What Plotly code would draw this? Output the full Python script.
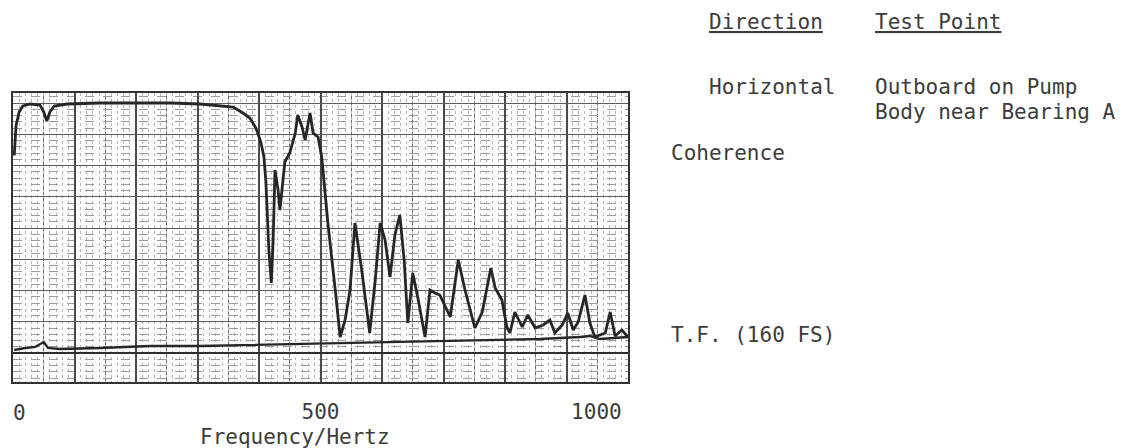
import plotly.graph_objects as go

# ---- data ----
coh_freq = [2, 5, 10, 16, 28, 44, 50, 55, 60, 67, 88, 141, 195, 255, 304, 337, 358, 374,
            385, 395, 403, 408, 411, 413, 416, 420, 423, 426, 431, 434, 439, 442, 450, 459,
            463, 470, 475, 480, 483, 488, 496, 502, 512, 524, 532, 540, 548, 556, 567, 580,
            589, 597, 605, 613, 621, 629, 636, 642, 650, 659, 670, 678, 686, 694, 702, 711,
            724, 735, 751, 763, 777, 784, 795, 803, 808, 816, 828, 837, 849, 862, 873, 881,
            893, 902, 911, 919, 930, 938, 946, 963, 971, 979, 990, 995, 1000]
coherence = [0.79, 0.91, 0.964, 0.988, 0.996, 0.992, 0.964, 0.928, 0.964, 0.988, 0.996,
             1.0, 1.0, 1.0, 0.996, 0.99, 0.984, 0.96, 0.94, 0.90, 0.844, 0.784, 0.692, 0.584,
             0.412, 0.28, 0.452, 0.732, 0.652, 0.572, 0.692, 0.764, 0.80, 0.88, 0.952, 0.904,
             0.852, 0.924, 0.96, 0.88, 0.864, 0.784, 0.52, 0.252, 0.064, 0.132, 0.252, 0.52,
             0.332, 0.08, 0.292, 0.52, 0.452, 0.304, 0.472, 0.552, 0.372, 0.12, 0.32, 0.212,
             0.064, 0.252, 0.24, 0.232, 0.192, 0.144, 0.372, 0.252, 0.10, 0.164, 0.34, 0.26,
             0.212, 0.104, 0.08, 0.164, 0.104, 0.152, 0.10, 0.112, 0.132, 0.08, 0.112, 0.16,
             0.092, 0.124, 0.232, 0.12, 0.064, 0.08, 0.164, 0.068, 0.092, 0.076, 0.064]

tf_freq = [2, 20, 36, 44, 50, 57, 76, 141, 223, 304, 385, 467, 548, 597, 629, 710,
           792, 857, 922, 938, 954, 987, 1000]
tf_value = [0.012, 0.02, 0.024, 0.036, 0.044, 0.02, 0.016, 0.02, 0.028, 0.028, 0.032,
            0.036, 0.04, 0.044, 0.044, 0.048, 0.052, 0.056, 0.064, 0.068, 0.056, 0.06, 0.064]

x_range = [0, 1000]
y_range = [-0.116, 1.04]

NB = "\u00a0"
x_major_vals = [0, 100, 200, 300, 400, 500, 600, 700, 800, 900, 1000]
x_major_text = ["", "", "", "", "", "500", "", "", "", "", "1000" + NB * 5]
x_start_label = "0"

texts = {
    "dir": "<u>Direction</u>",
    "tp": "<u>Test Point</u>",
    "hor": "Horizontal",
    "tp1": "Outboard on Pump",
    "tp2": "Body near Bearing A",
    "coh": "Coherence",
    "tf": "T.F. (160 FS)",
    "xt": "Frequency/Hertz",
}

FONT = "DejaVu Sans Mono"
TXT = "#3c3c3c"
LINE = "#262626"

fig = go.Figure()
fig.add_trace(go.Scatter(x=tf_freq, y=tf_value, xaxis="x", yaxis="y", mode="lines",
                         line=dict(color=LINE, width=2.3), name="T.F. (160 FS)"))
fig.add_trace(go.Scatter(x=coh_freq, y=coherence, xaxis="x2", yaxis="y2", mode="lines",
                         line=dict(color=LINE, width=2.8), name="Coherence"))

tickfont = dict(family=FONT, size=21, color=TXT)
fine_x = list(range(0, 1001, 10))
fine_text = [x_start_label if v == 0 else "" for v in fine_x]

# page body has an 8px margin: figure is drawn 8px in from the top-left corner
fig.update_layout(
    width=1125, height=440,
    margin=dict(l=5, r=505, t=85, b=66, autoexpand=False),
    paper_bgcolor="white", plot_bgcolor="#fcfcfc",
    showlegend=False,
    xaxis=dict(range=x_range, tickmode="array", tickvals=fine_x, ticktext=fine_text,
               showgrid=True, gridcolor="#b8b8b8", griddash="dot", gridwidth=1,
               zeroline=False, showticklabels=True, ticks="", tickfont=tickfont,
               ticklabelposition="outside right", ticklabelstandoff=16, automargin=False),
    yaxis=dict(range=y_range, tickmode="linear", tick0=0, dtick=0.025, showgrid=True,
               gridcolor="#9c9c9c", griddash="dash", gridwidth=1, zeroline=False,
               showticklabels=False, ticks="", automargin=False),
    xaxis2=dict(range=x_range, overlaying="x", anchor="y2", tickmode="array",
                tickvals=x_major_vals, ticktext=x_major_text, showgrid=True,
                gridcolor="#4a4a4a", gridwidth=1.5,
                minor=dict(tickmode="linear", tick0=0, dtick=50, showgrid=True,
                           gridcolor="#6e6e6e", gridwidth=1.1),
                zeroline=False, ticks="", tickfont=tickfont, ticklabelstandoff=10,
                ticklabeloverflow="allow", automargin=False,
                showline=True, linecolor="#333", linewidth=1.6, mirror=True),
    yaxis2=dict(range=y_range, overlaying="y", anchor="x2", tickmode="linear", tick0=0,
                dtick=0.125, showgrid=True, gridcolor="#5c5c5c", gridwidth=1.3,
                zeroline=True, zerolinecolor="#2e2e2e", zerolinewidth=2,
                showticklabels=False, ticks="", automargin=False,
                showline=True, linecolor="#333", linewidth=1.6, mirror=True),
)

def px_x(px):
    return (px - 13) / 615.0

def px_y(py):
    return (382 - py) / 289.0

ann = [
    ("dir", 707, 22, "left"),
    ("tp", 873, 22, "left"),
    ("hor", 707, 87, "left"),
    ("tp1", 873, 87, "left"),
    ("tp2", 873, 112, "left"),
    ("coh", 669, 153, "left"),
    ("tf", 669, 335, "left"),
    ("xt", 295, 437, "center"),
]
for key, ax_, ay_, anc in ann:
    fig.add_annotation(text=texts[key], xref="paper", yref="paper", x=px_x(ax_), y=px_y(ay_),
                       xanchor=anc, yanchor="middle", showarrow=False,
                       font=dict(family=FONT, size=21, color=TXT))

fig.write_html("out.html")
